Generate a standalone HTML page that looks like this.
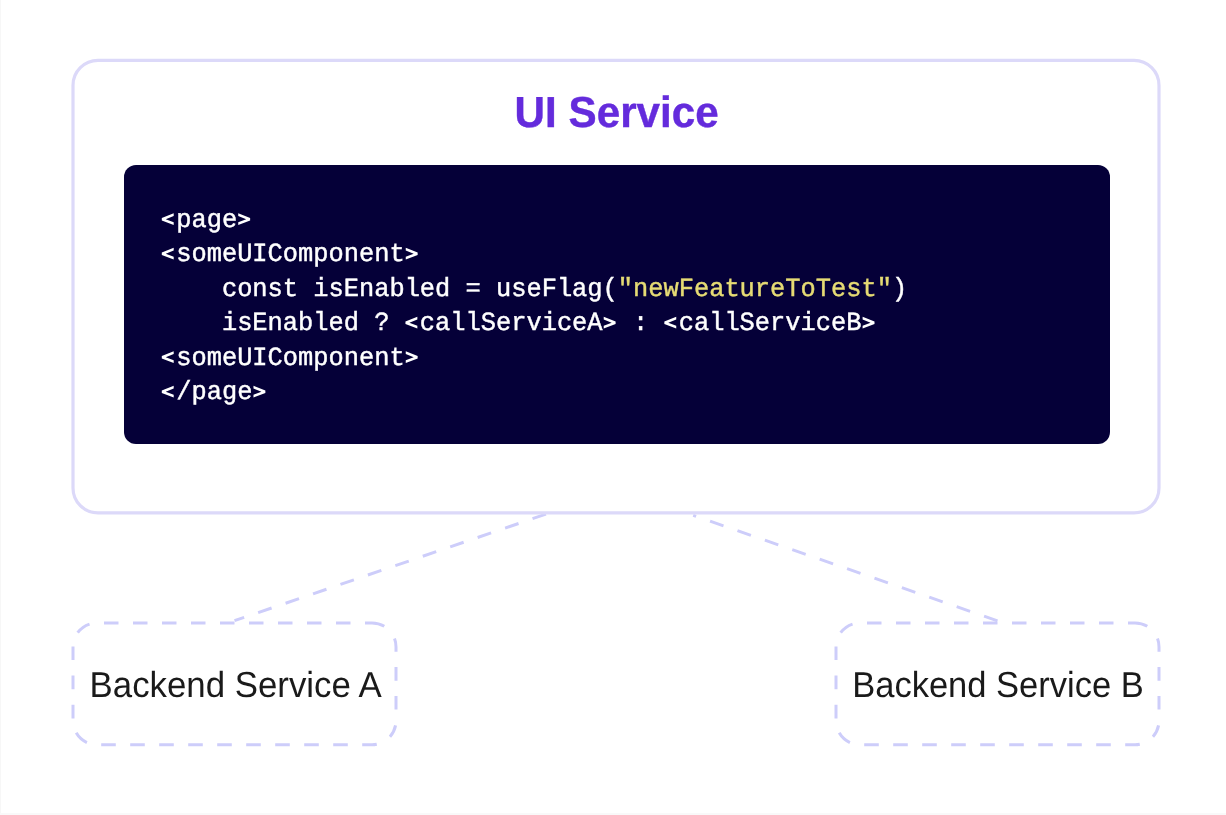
<!DOCTYPE html>
<html>
<head>
<meta charset="utf-8">
<style>
html,body{margin:0;padding:0;background:#ffffff;}
body{width:1226px;height:815px;position:relative;overflow:hidden;font-family:"Liberation Sans",sans-serif;}
#edge-l{position:absolute;left:0;top:0;width:1px;height:815px;background:#f7f7f7;}
#edge-b{position:absolute;left:0;top:813px;width:1226px;height:2px;background:#f9f9f9;}
svg{position:absolute;left:0;top:0;will-change:transform;text-rendering:geometricPrecision;}
.mono{font-family:"Liberation Mono",monospace;font-size:26.1px;fill:#ffffff;stroke:#ffffff;stroke-width:0.45px;white-space:pre;}
.str{stroke:#e6db74;}
.str{fill:#e6db74;}
.lbl{font-family:"Liberation Sans",sans-serif;font-size:36.1px;fill:#1a1a1a;}
.title{font-family:"Liberation Sans",sans-serif;font-weight:bold;font-size:43.5px;fill:#642bdc;stroke:#642bdc;stroke-width:0.4px;}
</style>
</head>
<body>
<div id="edge-l"></div>
<div id="edge-b"></div>
<svg width="1226" height="815" viewBox="0 0 1226 815">
  <!-- connectors (drawn first; hidden inside outer box by its white fill) -->
  <line x1="234.5" y1="620.7" x2="600" y2="495.6" stroke="#cdcdfa" stroke-width="3" stroke-dasharray="14.2 14.8" stroke-dashoffset="4"/>
  <line x1="997.5" y1="620.8" x2="693.2" y2="515.35" stroke="#cdcdfa" stroke-width="3" stroke-dasharray="14.2 14.8"/>
  <!-- outer box -->
  <rect x="73" y="60.4" width="1086" height="452.5" rx="25" ry="25" fill="#ffffff" stroke="#dcd9f9" stroke-width="3.2"/>
  <!-- dashed boxes -->
  <path d="M104 622.9H118.5M133 622.9H147.5M162 622.9H176.5M191 622.9H205.5M220 622.9H234.5M249 622.9H263.5M278 622.9H292.5M307 622.9H321.5M336 622.9H350.5M365 622.9H372A24 24 0 0 1 384.29 626.28M394.51 638.57A24 24 0 0 1 396 646.9V651.7M396 666.9V680.7M396 696.1V709.6M395.56 725.38A24 24 0 0 1 389.95 736.73M101.2 744.8H115.8M130.2 744.8H144.8M159.2 744.8H173.8M188.2 744.8H202.8M217.2 744.8H231.8M246.2 744.8H260.8M275.2 744.8H289.8M304.2 744.8H318.8M333.2 744.8H347.8M362.2 744.8H372A24 24 0 0 0 376.77 744.32M86.9 742.57A24 24 0 0 1 76.22 732.8M73 646.4V660.1M73 675.6V689.3M73 704.8V718.5M77.66 632.69A24 24 0 0 1 89.54 624.09" fill="none" stroke="#cdcdfa" stroke-width="3"/>
  <path transform="translate(763,0)" d="M104 622.9H118.5M133 622.9H147.5M162 622.9H176.5M191 622.9H205.5M220 622.9H234.5M249 622.9H263.5M278 622.9H292.5M307 622.9H321.5M336 622.9H350.5M365 622.9H372A24 24 0 0 1 384.29 626.28M394.51 638.57A24 24 0 0 1 396 646.9V651.7M396 666.9V680.7M396 696.1V709.6M395.56 725.38A24 24 0 0 1 389.95 736.73M101.2 744.8H115.8M130.2 744.8H144.8M159.2 744.8H173.8M188.2 744.8H202.8M217.2 744.8H231.8M246.2 744.8H260.8M275.2 744.8H289.8M304.2 744.8H318.8M333.2 744.8H347.8M362.2 744.8H372A24 24 0 0 0 376.77 744.32M86.9 742.57A24 24 0 0 1 76.22 732.8M73 646.4V660.1M73 675.6V689.3M73 704.8V718.5M77.66 632.69A24 24 0 0 1 89.54 624.09" fill="none" stroke="#cdcdfa" stroke-width="3"/>
  <!-- title -->
  <text class="title" x="514.6" y="127" textLength="204.1" lengthAdjust="spacingAndGlyphs">UI Service</text>
  <!-- code block -->
  <rect x="124" y="165" width="986" height="279" rx="12" ry="12" fill="#050038"/>
  <g transform="translate(161,0) scale(0.97241,1)">
  <text class="mono" x="0" y="226.6" xml:space="preserve"> page </text>
  <text class="mono" x="0" y="261.1" xml:space="preserve"> someUIComponent </text>
  <text class="mono" x="0" y="295.6" xml:space="preserve">    const isEnabled = useFlag(<tspan class="str">"newFeatureToTest"</tspan>)</text>
  <text class="mono" x="0" y="330.1" xml:space="preserve">    isEnabled ?  callServiceA  :  callServiceB </text>
  <text class="mono" x="0" y="364.6" xml:space="preserve"> someUIComponent </text>
  <text class="mono" x="0" y="399.1" xml:space="preserve"> /page </text>
  </g>
  <path d="M173.7 213.35L161.8 218L161.8 220.4L173.7 225.05L173.7 222.3L165.75 219.2L173.7 216.1ZM238.24 213.35L250.14 218L250.14 220.4L238.24 225.05L238.24 222.3L246.19 219.2L238.24 216.1ZM173.7 247.85L161.8 252.5L161.8 254.9L173.7 259.55L173.7 256.8L165.75 253.7L173.7 250.6ZM405.75 247.85L417.65 252.5L417.65 254.9L405.75 259.55L405.75 256.8L413.7 253.7L405.75 250.6ZM417.35 316.85L405.45 321.5L405.45 323.9L417.35 328.55L417.35 325.8L409.4 322.7L417.35 319.6ZM603.72 316.85L615.62 321.5L615.62 323.9L603.72 328.55L603.72 325.8L611.67 322.7L603.72 319.6ZM676.24 316.85L664.34 321.5L664.34 323.9L676.24 328.55L676.24 325.8L668.29 322.7L676.24 319.6ZM862.61 316.85L874.51 321.5L874.51 323.9L862.61 328.55L862.61 325.8L870.56 322.7L862.61 319.6ZM173.7 351.35L161.8 356L161.8 358.4L173.7 363.05L173.7 360.3L165.75 357.2L173.7 354.1ZM405.75 351.35L417.65 356L417.65 358.4L405.75 363.05L405.75 360.3L413.7 357.2L405.75 354.1ZM173.7 385.85L161.8 390.5L161.8 392.9L173.7 397.55L173.7 394.8L165.75 391.7L173.7 388.6ZM253.47 385.85L265.37 390.5L265.37 392.9L253.47 397.55L253.47 394.8L261.42 391.7L253.47 388.6Z" fill="#ffffff"/>
  <!-- labels -->
  <text class="lbl" x="89.6" y="696.6" textLength="292.2" lengthAdjust="spacingAndGlyphs">Backend Service A</text>
  <text class="lbl" x="852.2" y="696.6" textLength="291.6" lengthAdjust="spacingAndGlyphs">Backend Service B</text>
</svg>
</body>
</html>
